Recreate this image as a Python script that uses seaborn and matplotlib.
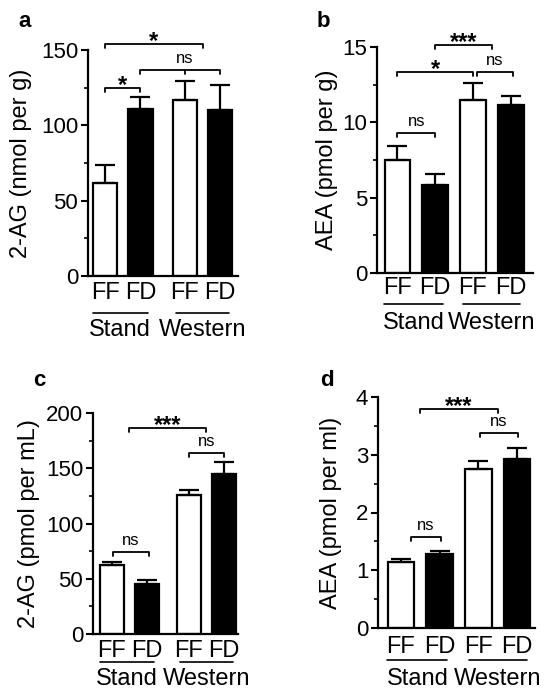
# Endocannabinoid levels, 4-panel bar chart
import numpy as np
import pandas as pd
import matplotlib.pyplot as plt
import matplotlib.transforms as mtrans
import seaborn as sns

sns.set_style("ticks")
plt.rcParams['font.family'] = ['Liberation Sans', 'DejaVu Sans']
plt.rcParams.update({"text.color": "black", "axes.labelcolor": "black",
                     "xtick.color": "black", "ytick.color": "black",
                     "axes.edgecolor": "black"})

# data (mean, upper SEM)
groups = ["FF", "FD", "FF", "FD"]
diets = ["Stand", "Western"]

a_mean = [62, 111, 117, 110]
a_sem = [12, 8, 12.5, 16.5]
b_mean = [7.5, 5.85, 11.48, 11.14]
b_sem = [0.96, 0.7, 1.16, 0.61]
c_mean = [62, 45.5, 126, 145]
c_sem = [3.5, 3.5, 4.5, 11]
d_mean = [1.14, 1.28, 2.76, 2.92]
d_sem = [0.05, 0.06, 0.13, 0.19]

ylabels = ["2-AG (nmol per g)", "AEA (pmol per g)",
           "2-AG (pmol per mL)", "AEA (pmol per ml)"]

# significance brackets: (x0, x1, y, label, extra middle tick)
a_sig = [(0, 2.75, 154, "*", None), (1, 3.25, 137, "ns", 2.25), (0, 1, 125, "*", None)]
b_sig = [(1, 2.5, 15.13, "***", None), (0, 2, 13.34, "*", None),
         (2.1, 3.05, 13.34, "ns", None), (0, 1, 9.29, "ns", None)]
c_sig = [(0.5, 2.7, 186.4, "***", None), (2.2, 3.2, 163.8, "ns", None), (0.03, 1.05, 74.5, "ns", None)]
d_sig = [(0.5, 2.5, 3.79, "***", None), (2.05, 3.02, 3.38, "ns", None), (0.26, 1.03, 1.57, "ns", None)]

W, H = 550, 696
fig = plt.figure(figsize=(W / 100, H / 100), dpi=100)

# panel layout in pixels: left, right, bottom, top
panels = [
    dict(box=(88, 238, 276, 50), pos=[0, 1, 2.25, 3.25], xlim=(-0.48, 3.75), ylim=150,
         major=50, minor=25, mean=a_mean, sem=a_sem, sig=a_sig, lab="a", labxy=(18, 27),
         ylab_x=-0.37, line_off=37, text_off=43, pad=4),
    dict(box=(377, 533, 273, 47), pos=[0, 1, 2, 3], xlim=(-0.54, 3.59), ylim=15,
         major=5, minor=2.5, mean=b_mean, sem=b_sem, sig=b_sig, lab="b", labxy=(317, 27),
         ylab_x=-0.25, line_off=31, text_off=39, pad=3),
    dict(box=(93, 238, 634, 413), pos=[0, 1, 2.2, 3.2], xlim=(-0.54, 3.6), ylim=200,
         major=50, minor=25, mean=c_mean, sem=c_sem, sig=c_sig, lab="c", labxy=(33, 386),
         ylab_x=-0.365, line_off=28, text_off=34, pad=4),
    dict(box=(378, 535, 628, 397), pos=[0, 1, 2, 3], xlim=(-0.59, 3.46), ylim=4,
         major=1, minor=0.5, mean=d_mean, sem=d_sem, sig=d_sig, lab="d", labxy=(320, 386),
         ylab_x=-0.23, line_off=32, text_off=40, pad=6),
]

for p, ylab in zip(panels, ylabels):
    l, r, b, t = p["box"]
    ax = fig.add_axes([l / W, 1 - b / H, (r - l) / W, (b - t) / H])
    df = pd.DataFrame({"x": p["pos"], "y": p["mean"], "grp": groups})
    sns.barplot(data=df, x="x", y="y", hue="grp", palette={"FF": "white", "FD": "black"},
                native_scale=True, dodge=False, width=0.68, errorbar=None,
                edgecolor="black", linewidth=1.6, legend=False, ax=ax, zorder=2)
    ax.errorbar(p["pos"], p["mean"], yerr=[np.zeros(4), p["sem"]], fmt="none",
                ecolor="black", elinewidth=1.6, capsize=7, capthick=1.6, zorder=3)

    ax.set_xlim(*p["xlim"])
    ax.set_ylim(0, p["ylim"])
    ax.set_yticks(np.arange(0, p["ylim"] + 1e-9, p["major"]))
    ax.set_yticks(np.arange(0, p["ylim"] + 1e-9, p["minor"]), minor=True)
    ax.set_xticks(p["pos"])
    ax.set_xticklabels(groups)
    ax.tick_params(axis="x", length=0, labelsize=17, pad=p["pad"])
    ax.tick_params(axis="y", which="major", length=5, width=1.5, labelsize=16, pad=2)
    ax.tick_params(axis="y", which="minor", length=3, width=1.2)
    sns.despine(ax=ax)
    for s in ["left", "bottom"]:
        ax.spines[s].set_linewidth(1.6)
    ax.set_xlabel("")
    ax.set_ylabel(ylab, fontsize=17)
    ax.yaxis.set_label_coords(p["ylab_x"], 0.5)

    # diet group lines and labels under the axis
    pos = p["pos"]
    tr_line = ax.get_xaxis_transform() + mtrans.ScaledTranslation(0, -p["line_off"] / 100, fig.dpi_scale_trans)
    tr_text = ax.get_xaxis_transform() + mtrans.ScaledTranslation(0, -p["text_off"] / 100, fig.dpi_scale_trans)
    for k, name in enumerate(diets):
        x0 = pos[2 * k] - (0.35 if k == 0 else 0.25)
        x1 = pos[2 * k + 1] + (0.2 if k == 0 else 0.25)
        ax.plot([x0, x1], [0, 0], color="black", lw=1.2, transform=tr_line, clip_on=False)
        ax.text((x0 + x1) / 2, 0, name, transform=tr_text, ha="center", va="top", fontsize=17)

    # significance brackets
    drop = 0.018 * p["ylim"]
    for x0, x1, y, lab, mid in p["sig"]:
        ax.plot([x0, x0, x1, x1], [y - drop, y, y, y - drop], color="black", lw=1.3, clip_on=False)
        if mid is not None:
            ax.plot([mid, mid], [y, y - drop], color="black", lw=1.3, clip_on=False)
        if lab == "ns":
            tx = mid if mid is not None else (x0 + x1) / 2
            ax.annotate(lab, xy=(tx, y), xytext=(0, 5), textcoords="offset points",
                        ha="center", va="baseline", fontsize=12, annotation_clip=False)
        else:
            ax.annotate(lab, xy=((x0 + x1) / 2, y), xytext=(0, -3), textcoords="offset points",
                        ha="center", va="baseline", fontsize=17, fontweight="bold",
                        annotation_clip=False)

    fig.text(p["labxy"][0] / W, 1 - p["labxy"][1] / H, p["lab"], fontsize=16,
             fontweight="bold", ha="left", va="baseline")

fig.savefig("out.png", dpi=100)
